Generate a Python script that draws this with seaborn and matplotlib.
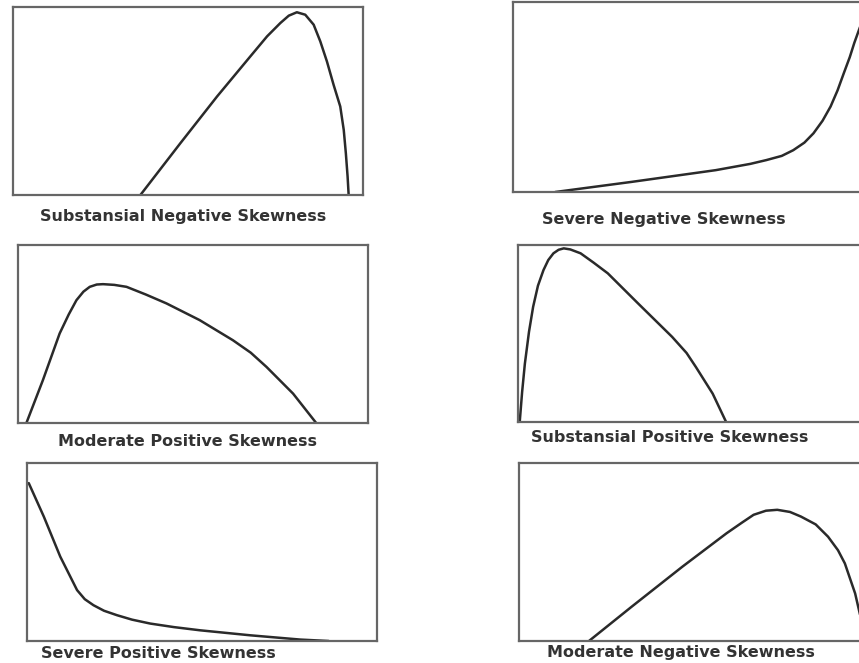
import matplotlib
matplotlib.use("Agg")
import matplotlib.pyplot as plt
import seaborn as sns

# Curves, in box fractions (x: left->right, y: bottom->top)
x_sub_neg = [0.364, 0.478, 0.583, 0.678, 0.726, 0.764, 0.788, 0.811, 0.835, 0.859, 0.878,
             0.897, 0.916, 0.935, 0.945, 0.951, 0.956, 0.959]
y_sub_neg = [0.000, 0.275, 0.524, 0.737, 0.844, 0.915, 0.954, 0.972, 0.959, 0.906, 0.817,
             0.710, 0.586, 0.471, 0.346, 0.222, 0.098, 0.000]

x_sev_neg = [0.121, 0.339, 0.581, 0.680, 0.726, 0.770, 0.803, 0.835, 0.861, 0.887, 0.910,
             0.930, 0.948, 0.965, 0.978, 0.997]
y_sev_neg = [0.000, 0.053, 0.115, 0.148, 0.168, 0.190, 0.220, 0.260, 0.309, 0.375, 0.450,
             0.535, 0.626, 0.710, 0.785, 0.882]

x_mod_pos = [0.024, 0.071, 0.119, 0.145, 0.167, 0.187, 0.205, 0.225, 0.243, 0.275, 0.310,
             0.365, 0.424, 0.519, 0.614, 0.665, 0.710, 0.786, 0.852]
y_mod_pos = [0.000, 0.240, 0.503, 0.610, 0.690, 0.738, 0.765, 0.778, 0.780, 0.776, 0.765,
             0.722, 0.672, 0.578, 0.465, 0.395, 0.315, 0.165, 0.000]

x_sub_pos = [0.005, 0.012, 0.020, 0.032, 0.044, 0.058, 0.074, 0.088, 0.103, 0.118, 0.133,
             0.152, 0.182, 0.220, 0.261, 0.349, 0.448, 0.490, 0.517, 0.566, 0.605]
y_sub_pos = [0.000, 0.170, 0.330, 0.510, 0.651, 0.770, 0.858, 0.915, 0.953, 0.973, 0.981,
             0.975, 0.953, 0.900, 0.840, 0.670, 0.481, 0.390, 0.311, 0.160, 0.000]

x_sev_pos = [0.005, 0.048, 0.095, 0.143, 0.165, 0.190, 0.220, 0.257, 0.300, 0.352, 0.420,
             0.495, 0.638, 0.781, 0.862]
y_sev_pos = [0.887, 0.699, 0.474, 0.286, 0.235, 0.201, 0.170, 0.145, 0.120, 0.098, 0.078,
             0.060, 0.032, 0.008, 0.000]

x_mod_neg = [0.204, 0.328, 0.476, 0.605, 0.650, 0.684, 0.720, 0.753, 0.790, 0.822, 0.865,
             0.901, 0.930, 0.950, 0.980, 1.000]
y_mod_neg = [0.000, 0.192, 0.417, 0.605, 0.665, 0.709, 0.732, 0.737, 0.725, 0.699, 0.655,
             0.586, 0.510, 0.436, 0.267, 0.100]

captions = ["Substansial Negative Skewness", "Severe Negative Skewness",
            "Moderate Positive Skewness", "Substansial Positive Skewness",
            "Severe Positive Skewness", "Moderate Negative Skewness"]

curves = [(x_sub_neg, y_sub_neg), (x_sev_neg, y_sev_neg),
          (x_mod_pos, y_mod_pos), (x_sub_pos, y_sub_pos),
          (x_sev_pos, y_sev_pos), (x_mod_neg, y_mod_neg)]

sns.set_style("white")
plt.rcParams['font.family'] = ['DejaVu Sans']

W, H = 859, 663
fig = plt.figure(figsize=(W / 100, H / 100), dpi=100)

# boxes in pixels: left, top, right, bottom
boxes = [(13, 7, 363, 195), (513, 2, 862, 192),
         (18, 245, 368, 423), (518, 245, 862, 422),
         (27, 463, 377, 641), (519, 463, 862, 641)]
# caption centres in pixels
cap_pos = [(183, 217), (664, 220), (187, 441), (670, 437), (158, 654), (681, 653)]

for (l, t, r, b), (xs, ys), cap, (cx, cy) in zip(boxes, curves, captions, cap_pos):
    ax = fig.add_axes([l / W, 1 - b / H, (r - l) / W, (b - t) / H])
    sns.lineplot(x=xs, y=ys, ax=ax, color="#2a2a2a", linewidth=1.8,
                 sort=False, estimator=None)
    ax.set_xlim(0, 1)
    ax.set_ylim(0, 1)
    ax.set_xticks([])
    ax.set_yticks([])
    for s in ax.spines.values():
        s.set_visible(True)
        s.set_color("#666666")
        s.set_linewidth(1.6)
    fig.text(cx / W, 1 - cy / H, cap, ha="center", va="center",
             fontsize=11.5, fontweight="bold", color="#333333")

fig.savefig("out.png", dpi=100)
